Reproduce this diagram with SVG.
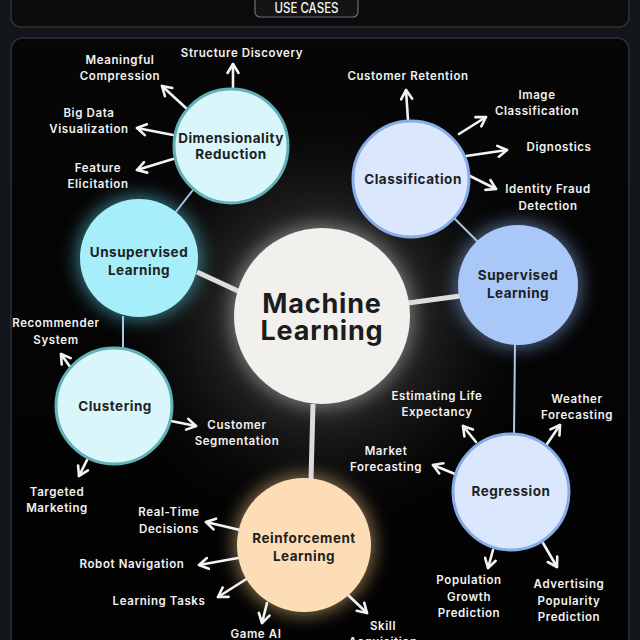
<svg xmlns="http://www.w3.org/2000/svg" width="640" height="640" viewBox="0 0 640 640">
<defs>
<style>
.lbl{font-family:Inter,"Liberation Sans",sans-serif;font-size:11.5px;font-weight:600;fill:#f2f2f2;letter-spacing:0.6px;text-anchor:middle}
.nt{font-family:Inter,"Liberation Sans",sans-serif;font-size:13.5px;font-weight:700;fill:#1d1f24;letter-spacing:0.5px;text-anchor:middle}
.arr{stroke:#f4f4f4;stroke-width:2.6;fill:none;stroke-linecap:round;marker-end:url(#ah)}
.thick{stroke:#dcdcdc;stroke-width:5;fill:none}
.thin{stroke:#a9c9e6;stroke-width:2;fill:none}
</style>
<marker id="ah" viewBox="0 0 14 14" refX="11" refY="7" markerWidth="14" markerHeight="14" markerUnits="userSpaceOnUse" orient="auto">
<path d="M2,1.5 L11,7 L2,12.5" fill="none" stroke="#f4f4f4" stroke-width="2.6" stroke-linecap="round" stroke-linejoin="round"/>
</marker>
<radialGradient id="cg" cx="322" cy="316" r="230" gradientUnits="userSpaceOnUse">
<stop offset="0" stop-color="#6a6a6a" stop-opacity="0.9"/>
<stop offset="0.45" stop-color="#2c2c2c" stop-opacity="0.7"/>
<stop offset="1" stop-color="#000" stop-opacity="0"/>
</radialGradient>
<filter id="glow" x="-50%" y="-50%" width="200%" height="200%">
<feGaussianBlur stdDeviation="9"/>
</filter>
<linearGradient id="bg" x1="0" y1="0" x2="0" y2="1">
<stop offset="0" stop-color="#060606"/>
<stop offset="1" stop-color="#020202"/>
</linearGradient>
</defs>
<rect x="0" y="0" width="640" height="640" fill="#12161a"/>
<rect x="11" y="-12" width="618" height="39" rx="10" fill="#0b0b0c" stroke="#2e3338" stroke-width="1.5"/>
<g id="usecases">
<rect x="255" y="-6" width="103" height="23" rx="5" fill="#141414" stroke="#6b6f74" stroke-width="1.2"/>
<text x="306.5" y="12.5" font-family="Inter,'Liberation Sans',sans-serif" font-size="14" font-weight="500" fill="#f4f4f4" text-anchor="middle" textLength="64" lengthAdjust="spacingAndGlyphs">USE CASES</text>
</g>
<rect x="11" y="38" width="618" height="620" rx="12" fill="url(#bg)" stroke="#2e3338" stroke-width="1.5"/>
<circle cx="322" cy="316" r="230" fill="url(#cg)"/>
<circle cx="139" cy="258" r="62" fill="#5fd8ec" opacity="0.55" filter="url(#glow)"/>
<circle cx="518" cy="285" r="63" fill="#8ab4f0" opacity="0.55" filter="url(#glow)"/>
<circle cx="304" cy="545" r="70" fill="#f6c98a" opacity="0.55" filter="url(#glow)"/>
<circle cx="322" cy="316" r="92" fill="#ffffff" opacity="0.35" filter="url(#glow)"/>

<g id="connectors">
<line class="thick" x1="197" y1="272" x2="238" y2="291"/>
<line class="thick" x1="408" y1="303" x2="460" y2="296"/>
<line class="thick" x1="313" y1="404" x2="311" y2="480"/>
<line class="thin" x1="175" y1="213" x2="193" y2="190"/>
<line class="thin" x1="123" y1="316" x2="123" y2="348"/>
<line class="thin" x1="454" y1="218" x2="479" y2="243"/>
<line class="thin" x1="515" y1="344" x2="514" y2="434"/>
<line class="arr" x1="233" y1="88" x2="233" y2="64"/>
<line class="arr" x1="186" y1="108" x2="162" y2="86"/>
<line class="arr" x1="173" y1="135" x2="137" y2="128"/>
<line class="arr" x1="173" y1="159" x2="137" y2="170"/>
<line class="arr" x1="408" y1="120" x2="406" y2="90"/>
<line class="arr" x1="459" y1="134" x2="486" y2="117"/>
<line class="arr" x1="466" y1="156" x2="507" y2="150"/>
<line class="arr" x1="470" y1="176" x2="496" y2="189"/>
<line class="arr" x1="73" y1="371" x2="61" y2="354"/>
<line class="arr" x1="171" y1="421" x2="196" y2="426"/>
<line class="arr" x1="87" y1="460" x2="79" y2="476"/>
<line class="arr" x1="476" y1="442" x2="463" y2="426"/>
<line class="arr" x1="455" y1="474" x2="433" y2="465"/>
<line class="arr" x1="547" y1="444" x2="560" y2="425"/>
<line class="arr" x1="493" y1="550" x2="488" y2="568"/>
<line class="arr" x1="543" y1="543" x2="557" y2="567"/>
<line class="arr" x1="240" y1="530" x2="206" y2="522"/>
<line class="arr" x1="238" y1="558" x2="199" y2="565"/>
<line class="arr" x1="248" y1="578" x2="218" y2="597"/>
<line class="arr" x1="267" y1="603" x2="262" y2="623"/>
<line class="arr" x1="348" y1="595" x2="367" y2="613"/>
</g>

<g id="ml">
<circle cx="322" cy="316" r="88" fill="#f2f0ec"/>
<text x="322" y="313" font-family="Inter,'Liberation Sans',sans-serif" font-size="27" font-weight="700" fill="#1c1c1c" text-anchor="middle" letter-spacing="0.8">Machine</text>
<text x="322" y="340" font-family="Inter,'Liberation Sans',sans-serif" font-size="27" font-weight="700" fill="#1c1c1c" text-anchor="middle" letter-spacing="0.8">Learning</text>
</g>
<g id="dimred">
<circle cx="231" cy="146" r="57" fill="#d9f6fb" stroke="#62b1b6" stroke-width="3"/>
<text class="nt" x="231" y="143" font-size="12.2">Dimensionality</text>
<text class="nt" x="231" y="159" font-size="12.2">Reduction</text>
</g>
<g id="unsup">
<circle cx="139" cy="258" r="59" fill="#a6eef9"/>
<text class="nt" x="139" y="257">Unsupervised</text>
<text class="nt" x="139" y="275">Learning</text>
</g>
<g id="clustering">
<circle cx="114" cy="406" r="58" fill="#d9f6fb" stroke="#62b1b6" stroke-width="3"/>
<text class="nt" x="115" y="411">Clustering</text>
</g>
<g id="classification">
<circle cx="411" cy="179" r="58" fill="#dbe7fc" stroke="#88acea" stroke-width="3"/>
<text class="nt" x="413" y="184">Classification</text>
</g>
<g id="sup">
<circle cx="518" cy="285" r="60" fill="#a9c8f8"/>
<text class="nt" x="518" y="280">Supervised</text>
<text class="nt" x="518" y="298">Learning</text>
</g>
<g id="regression">
<circle cx="511" cy="492" r="58" fill="#dbe7fc" stroke="#88acea" stroke-width="3"/>
<text class="nt" x="511" y="496">Regression</text>
</g>
<g id="rl">
<circle cx="304" cy="545" r="67" fill="#fcddb5"/>
<text class="nt" x="304" y="543" font-size="14">Reinforcement</text>
<text class="nt" x="304" y="561" font-size="14">Learning</text>
</g>

<g id="labels">
<text class="lbl" x="242" y="57">Structure Discovery</text>
<text class="lbl" x="120" y="64">Meaningful</text>
<text class="lbl" x="120" y="80">Compression</text>
<text class="lbl" x="89" y="117">Big Data</text>
<text class="lbl" x="89" y="133">Visualization</text>
<text class="lbl" x="98" y="172">Feature</text>
<text class="lbl" x="98" y="188">Elicitation</text>
<text class="lbl" x="408" y="80">Customer Retention</text>
<text class="lbl" x="537" y="99">Image</text>
<text class="lbl" x="537" y="115">Classification</text>
<text class="lbl" x="559" y="151">Dignostics</text>
<text class="lbl" x="548" y="193">Identity Fraud</text>
<text class="lbl" x="548" y="210">Detection</text>
<text class="lbl" x="56" y="327">Recommender</text>
<text class="lbl" x="56" y="344">System</text>
<text class="lbl" x="237" y="429">Customer</text>
<text class="lbl" x="237" y="445">Segmentation</text>
<text class="lbl" x="57" y="496">Targeted</text>
<text class="lbl" x="57" y="512">Marketing</text>
<text class="lbl" x="437" y="400">Estimating Life</text>
<text class="lbl" x="437" y="416">Expectancy</text>
<text class="lbl" x="386" y="455">Market</text>
<text class="lbl" x="386" y="471">Forecasting</text>
<text class="lbl" x="577" y="403">Weather</text>
<text class="lbl" x="577" y="419">Forecasting</text>
<text class="lbl" x="469" y="584">Population</text>
<text class="lbl" x="469" y="601">Growth</text>
<text class="lbl" x="469" y="617">Prediction</text>
<text class="lbl" x="569" y="588">Advertising</text>
<text class="lbl" x="569" y="605">Popularity</text>
<text class="lbl" x="569" y="621">Prediction</text>
<text class="lbl" x="169" y="516">Real-Time</text>
<text class="lbl" x="169" y="533">Decisions</text>
<text class="lbl" x="132" y="568">Robot Navigation</text>
<text class="lbl" x="159" y="605">Learning Tasks</text>
<text class="lbl" x="256" y="638">Game AI</text>
<text class="lbl" x="383" y="630">Skill</text>
<text class="lbl" x="383" y="646">Acquisition</text>
</g>
</svg>
